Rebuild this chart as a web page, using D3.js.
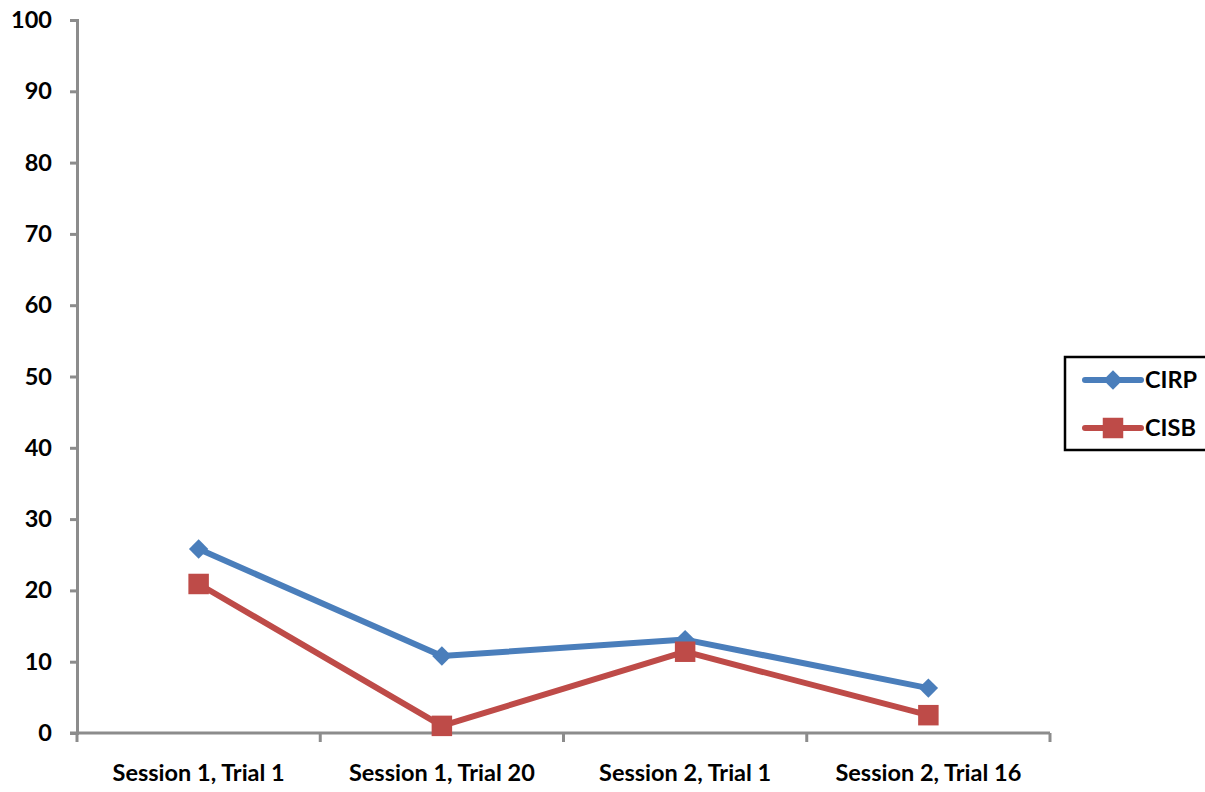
<!DOCTYPE html>
<html>
<head>
<meta charset="utf-8">
<script src="https://cdn.jsdelivr.net/npm/d3@7"></script>
<style>
  html, body { margin: 0; padding: 0; background: #fff; }
  svg { display: block; }
  text { font-family: Lato, "Open Sans", sans-serif; font-weight: 700; fill: #000; }
</style>
</head>
<body>
<svg id="chart" width="1205" height="792"></svg>
<script>
// Categories along the x axis
const categories = ["Session 1, Trial 1", "Session 1, Trial 20", "Session 2, Trial 1", "Session 2, Trial 16"];
// Series values
const cirpValues = [25.8, 10.8, 13.1, 6.3];
const cisbValues = [20.9, 1.0, 11.4, 2.5];
const seriesNames = ["CIRP", "CISB"];
// Y axis ticks
const yTicks = [0, 10, 20, 30, 40, 50, 60, 70, 80, 90, 100];

const svg = d3.select("#chart");
const plot = { left: 77, right: 1050, top: 20, bottom: 733 };
const fontSize = 23.5;

const x = d3.scaleBand().domain(categories).range([plot.left, plot.right]);
const y = d3.scaleLinear().domain([0, 100]).range([plot.bottom, plot.top]);

const axisColor = "#8c8c8c";

// Y axis
const yAxis = svg.append("g")
  .attr("transform", `translate(${plot.left},0)`)
  .call(d3.axisLeft(y).tickValues(yTicks).tickSize(7).tickPadding(18));
yAxis.select(".domain").attr("stroke", axisColor).attr("stroke-width", 3);
yAxis.selectAll(".tick line").attr("stroke", axisColor).attr("stroke-width", 3);
yAxis.selectAll("text").attr("font-size", fontSize).attr("font-family", "Lato, sans-serif").attr("font-weight", 700).attr("fill", "#000");

// X axis with ticks at category boundaries
const xAxis = svg.append("g")
  .attr("transform", `translate(0,${plot.bottom})`)
  .call(d3.axisBottom(x).tickSize(0).tickPadding(31));
xAxis.select(".domain").remove();
xAxis.append("line")
  .attr("x1", plot.left - 7).attr("x2", plot.right)
  .attr("y1", 0).attr("y2", 0)
  .attr("stroke", axisColor).attr("stroke-width", 3);
const boundaries = categories.map(c => x(c)).concat([x(categories[categories.length - 1]) + x.bandwidth()]);
xAxis.selectAll(".bound").data(boundaries).enter().append("line")
  .attr("x1", d => d).attr("x2", d => d)
  .attr("y1", 0).attr("y2", 9)
  .attr("stroke", axisColor).attr("stroke-width", 3);
xAxis.selectAll(".tick text").attr("font-size", fontSize).attr("font-family", "Lato, sans-serif").attr("font-weight", 700).attr("fill", "#000");

const cx = c => x(c) + x.bandwidth() / 2;
const series = [
  { name: seriesNames[0], values: cirpValues, color: "#4a7ebb", marker: "diamond" },
  { name: seriesNames[1], values: cisbValues, color: "#be4b48", marker: "square" }
];

const line = d3.line().x((d, i) => cx(categories[i])).y(d => y(d));
const diamond = d3.symbol().type(d3.symbolDiamond2).size(240);
const square = d3.symbol().type(d3.symbolSquare).size(420);

series.forEach(s => {
  svg.append("path")
    .datum(s.values)
    .attr("d", line)
    .attr("fill", "none")
    .attr("stroke", s.color)
    .attr("stroke-width", 6)
    .attr("stroke-linejoin", "round");
  svg.selectAll(null).data(s.values).enter().append("path")
    .attr("d", s.marker === "diamond" ? diamond : square)
    .attr("transform", (d, i) => `translate(${cx(categories[i])},${y(d)})`)
    .attr("fill", s.color);
});

// Legend
const legend = svg.append("g").attr("transform", "translate(1065,357)");
legend.append("rect")
  .attr("x", 0).attr("y", 0).attr("width", 150).attr("height", 93)
  .attr("fill", "#fff").attr("stroke", "#000").attr("stroke-width", 2.5);
series.forEach((s, i) => {
  const ly = 23 + i * 48;
  legend.append("line")
    .attr("x1", 20).attr("x2", 76).attr("y1", ly).attr("y2", ly)
    .attr("stroke", s.color).attr("stroke-width", 6).attr("stroke-linecap", "round");
  legend.append("path")
    .attr("d", s.marker === "diamond" ? diamond : square)
    .attr("transform", `translate(48,${ly})`)
    .attr("fill", s.color);
  legend.append("text")
    .attr("x", 80).attr("y", ly).attr("dy", "0.35em")
    .attr("font-size", fontSize)
    .text(s.name);
});
</script>
</body>
</html>
